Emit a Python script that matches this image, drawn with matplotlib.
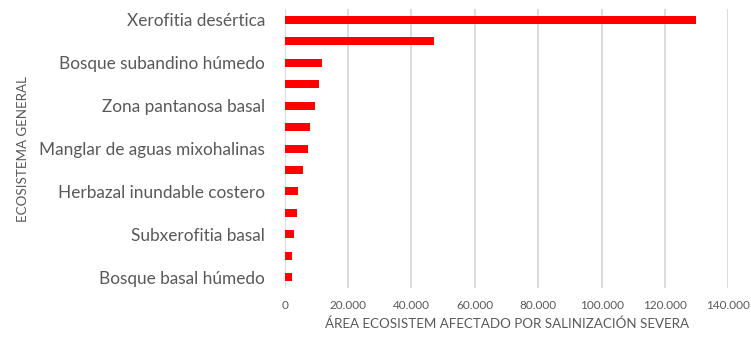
import matplotlib
matplotlib.use("Agg")
import matplotlib.pyplot as plt
from matplotlib.ticker import FuncFormatter

# Ecosystems ordered from largest to smallest affected area (top to bottom);
# only every other category carries a visible label on the axis.
categories = [
    "Xerofitia desértica",
    "",
    "Bosque subandino húmedo",
    "",
    "Zona pantanosa basal",
    "",
    "Manglar de aguas mixohalinas",
    "",
    "Herbazal inundable costero",
    "",
    "Subxerofitia basal",
    "",
    "Bosque basal húmedo",
]
area = [129800, 47100, 11700, 10900, 9500, 7900, 7400, 5800, 4100, 4000, 2950, 2450, 2350]

x_ticks = [0, 20000, 40000, 60000, 80000, 100000, 120000, 140000]

text_color = "#595959"
grid_color = "#d9d9d9"
bar_color = "#ff0000"

plt.rcParams["font.family"] = ["Lato", "DejaVu Sans"]

fig = plt.figure(figsize=(7.51, 3.38), dpi=100)
ax = fig.add_axes([0.379, 0.148, 0.591, 0.825])

ypos = list(range(len(categories)))
ax.barh(ypos, area, height=0.37, color=bar_color, zorder=3)
ax.set_ylim(len(categories) - 0.5, -0.5)
ax.set_xlim(0, 140000)

ax.set_yticks(ypos)
ax.set_yticklabels(categories, fontsize=12.4, color=text_color)
ax.set_xticks(x_ticks)
ax.xaxis.set_major_formatter(FuncFormatter(lambda v, p: f"{int(v):,}".replace(",", ".")))
ax.tick_params(axis="x", labelsize=8.5, colors=text_color, length=0, pad=9)
ax.tick_params(axis="y", length=0, pad=14)

ax.grid(axis="x", color=grid_color, linewidth=1.3, zorder=0)
for s in ax.spines.values():
    s.set_visible(False)

ax.set_xlabel("ÁREA ECOSISTEM AFECTADO POR SALINIZACIÓN SEVERA", fontsize=9.6,
              color=text_color, labelpad=4)
fig.text(0.03, 0.56, "ECOSISTEMA GENERAL", rotation=90, fontsize=9.6,
         color=text_color, ha="center", va="center")

fig.savefig("out.png", dpi=100)
